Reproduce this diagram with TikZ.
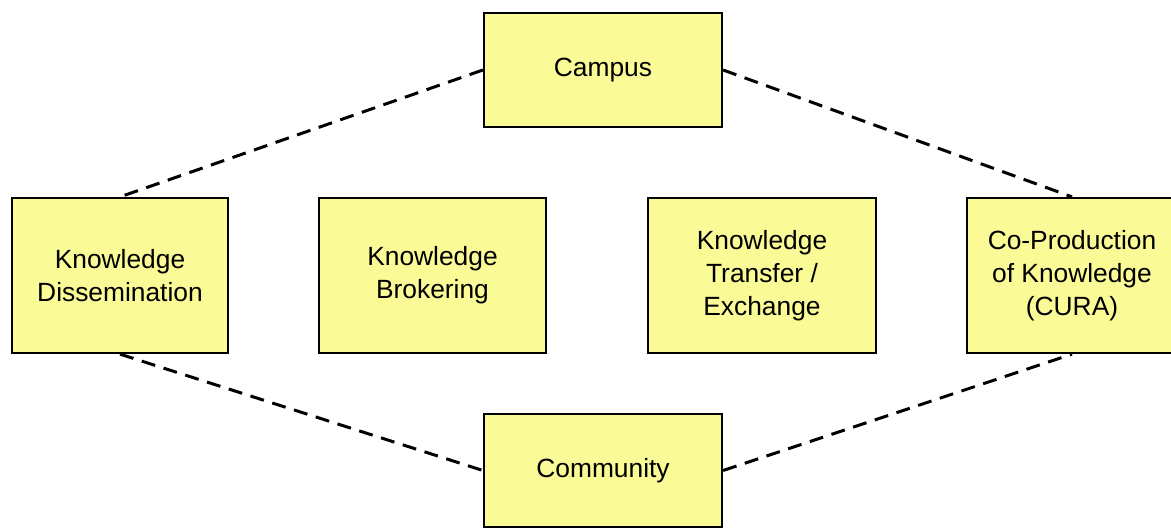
\documentclass[tikz,border=0pt]{standalone}
\usepackage{fontspec}
\setmainfont{Liberation Sans}
\definecolor{boxfill}{RGB}{250,250,150}
\tikzset{
	kbox/.style={draw=black, line width=1.3pt, fill=boxfill, align=center,
		inner sep=0pt, font=\fontsize{15}{18.7}\selectfont},
	link/.style={line width=1.7pt, dash pattern=on 8pt off 5pt}
}
\begin{document}
\begin{tikzpicture}[x=0.02cm, y=-0.02cm]

	\useasboundingbox (0,0) rectangle (1171,529);

	% top and bottom
	\node[kbox, minimum width=4.76cm, minimum height=2.28cm] (campus) at (603,70) {Campus};
	\node[kbox, minimum width=4.76cm, minimum height=2.26cm] (community) at (603,470.5) {Community};

	% middle row
	\node[kbox, minimum width=4.32cm, minimum height=3.1cm] (dissem) at (120,275.5) {Knowledge\\Dissemination};
	\node[kbox, minimum width=4.54cm, minimum height=3.1cm] (broker) at (432.5,275.5) {Knowledge\\Brokering};
	\node[kbox, minimum width=4.56cm, minimum height=3.1cm] (transfer) at (762,275.5) {Knowledge\\Transfer /\\Exchange};
	\node[kbox, minimum width=4.2cm, minimum height=3.1cm] (coprod) at (1072,275.5) {Co-Production\\of Knowledge\\(CURA)};

	% links
	\draw[link] (campus.west) -- (dissem.north);
	\draw[link] (campus.east) -- (coprod.north);
	\draw[link] (dissem.south) -- (community.west);
	\draw[link] (community.east) -- (coprod.south);

\end{tikzpicture}
\end{document}
